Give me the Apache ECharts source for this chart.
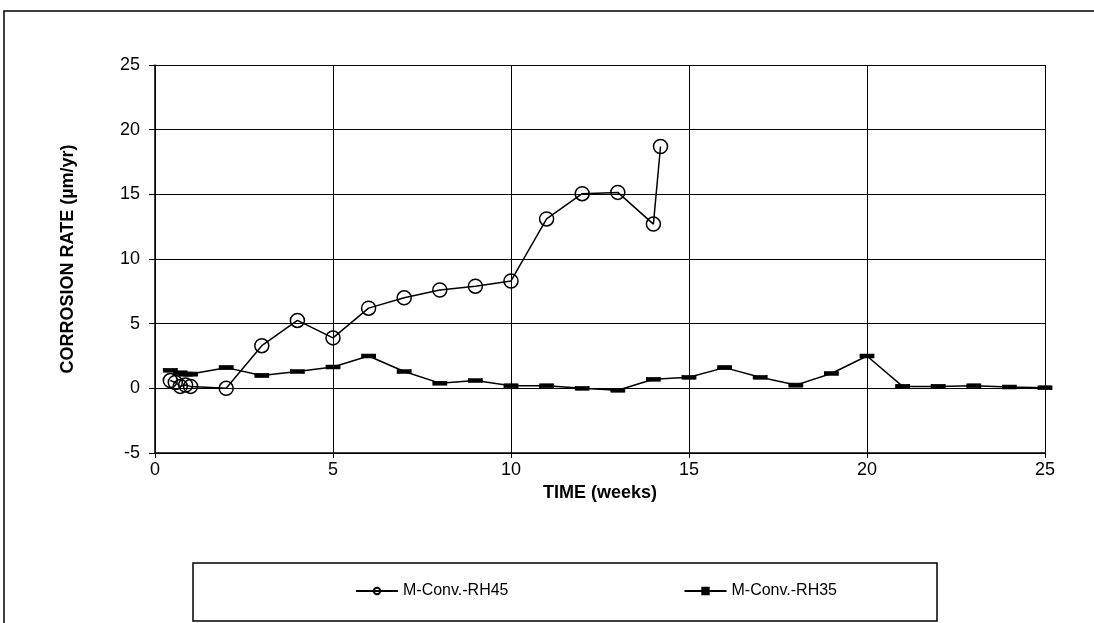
<!DOCTYPE html>
<html><head><meta charset="utf-8">
<script src="https://cdn.jsdelivr.net/npm/echarts@6/dist/echarts.min.js"></script>
<style>html,body{margin:0;padding:0;background:#fff}#c{width:1094px;height:623px}</style>
</head><body><div id="c"></div>
<script>
const seriesNames = ['M-Conv.-RH45', 'M-Conv.-RH35'];
const rh45Weeks = [0.43, 0.57, 0.71, 0.86, 1.0, 2, 3, 4, 5, 6, 7, 8, 9, 10, 11, 12, 13, 14, 14.2];
const rh45Rate  = [0.6, 0.45, 0.15, 0.25, 0.15, 0.0, 3.3, 5.25, 3.9, 6.2, 7.0, 7.6, 7.9, 8.3, 13.1, 15.05, 15.15, 12.7, 18.7];
const rh35Weeks = [0.43, 0.71, 0.86, 1.0, 2, 3, 4, 5, 6, 7, 8, 9, 10, 11, 12, 13, 14, 15, 16, 17, 18, 19, 20, 21, 22, 23, 24, 25];
const rh35Rate  = [1.4, 1.2, 1.1, 1.1, 1.6, 1.0, 1.3, 1.65, 2.5, 1.3, 0.4, 0.6, 0.2, 0.2, 0.0, -0.15, 0.7, 0.85, 1.6, 0.85, 0.25, 1.15, 2.5, 0.15, 0.15, 0.2, 0.1, 0.05];

const font = "'Liberation Sans', Arial, sans-serif";
const zip = (xs, ys) => xs.map((x, i) => [x, ys[i]]);

const chart = echarts.init(document.getElementById('c'), null, {renderer: 'canvas'});
chart.setOption({
  animation: false,
  backgroundColor: '#fff',
  textStyle: {fontFamily: font, color: '#000'},
  grid: {left: 155, right: 49, top: 65, bottom: 170, containLabel: false},
  xAxis: {
    type: 'value', min: 0, max: 25, interval: 5,
    name: 'TIME (weeks)', nameLocation: 'middle', nameGap: 31,
    nameTextStyle: {fontFamily: font, fontSize: 18, fontWeight: 'bold', color: '#000'},
    axisLine: {onZero: false, lineStyle: {color: '#000', width: 1.5}},
    axisTick: {show: true, length: 5, lineStyle: {color: '#000', width: 1}},
    axisLabel: {fontFamily: font, fontSize: 18, color: '#000', margin: 8},
    splitLine: {show: true, lineStyle: {color: '#000', width: 1}}
  },
  yAxis: {
    type: 'value', min: -5, max: 25, interval: 5,
    name: 'CORROSION RATE (µm/yr)', nameLocation: 'middle', nameGap: 78, nameRotate: 90,
    nameTextStyle: {fontFamily: font, fontSize: 18, fontWeight: 'bold', color: '#000'},
    axisLine: {show: true, lineStyle: {color: '#000', width: 1.5}},
    axisTick: {show: true, length: 6, lineStyle: {color: '#000', width: 1}},
    axisLabel: {fontFamily: font, fontSize: 18, color: '#000', margin: 15},
    splitLine: {show: true, lineStyle: {color: '#000', width: 1}}
  },
  legend: {
    left: 350, top: 578, itemWidth: 42, itemHeight: 8, itemGap: 175,
    data: seriesNames,
    textStyle: {fontFamily: font, fontSize: 16, color: '#000'}
  },
  graphic: [
    {type: 'rect', shape: {x: 4, y: 11, width: 1100, height: 620}, style: {fill: 'none', stroke: '#000', lineWidth: 1.5}, silent: true, z: -10},
    {type: 'rect', shape: {x: 193, y: 563, width: 744, height: 58}, style: {fill: 'none', stroke: '#000', lineWidth: 1.5}, silent: true, z: -10}
  ],
  series: [
    {
      name: seriesNames[0], type: 'line', data: zip(rh45Weeks, rh45Rate),
      symbol: 'circle', symbolSize: 14,
      lineStyle: {color: '#000', width: 1.5},
      itemStyle: {color: 'rgba(255,255,255,0)', borderColor: '#000', borderWidth: 1.5},
      z: 3
    },
    {
      name: seriesNames[1], type: 'line', data: zip(rh35Weeks, rh35Rate),
      symbol: 'rect', symbolSize: [13, 4],
      lineStyle: {color: '#000', width: 1.5},
      itemStyle: {color: '#000', borderColor: '#000', borderWidth: 1},
      z: 2
    }
  ]
});
</script>
</body></html>
